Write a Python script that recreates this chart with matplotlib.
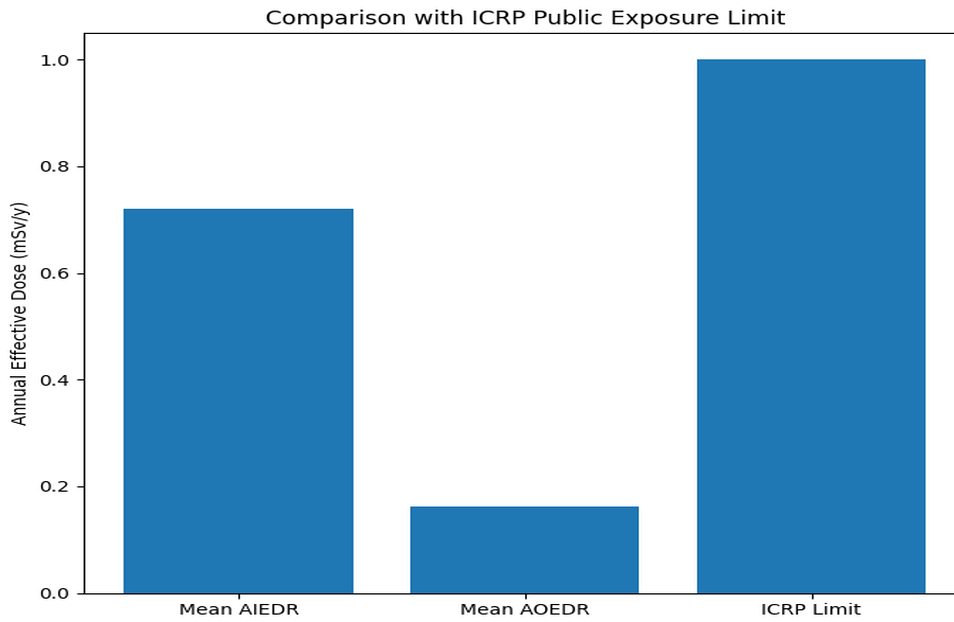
import io
import matplotlib
matplotlib.use("Agg")
import matplotlib.pyplot as plt
from PIL import Image

categories = ["Mean AIEDR", "Mean AOEDR", "ICRP Limit"]
doses = [0.72, 0.163, 1.0]

title = "Comparison with ICRP Public Exposure Limit"
ylabel = "Annual Effective Dose (mSv/y)"

# draw on a smaller canvas, then stretch to the final output size
W0, H0 = 672, 587
fig = plt.figure(figsize=(W0 / 100, H0 / 100), dpi=100)
# the axes run slightly past the right edge of the canvas
ax = fig.add_axes([84 / 954, 29 / 622, (966 - 84) / 954, (593 - 33) / 622])

ax.bar(categories, doses, color="#1f77b4", width=0.8)
ax.set_title(title, fontsize=12)
ax.set_ylabel(ylabel, fontsize=10)
ax.tick_params(labelsize=10)

buf = io.BytesIO()
fig.savefig(buf, format="png", dpi=100)
buf.seek(0)
img = Image.open(buf).convert("RGB")
img = img.resize((954, 622), Image.LANCZOS)
img.save("out.png")
